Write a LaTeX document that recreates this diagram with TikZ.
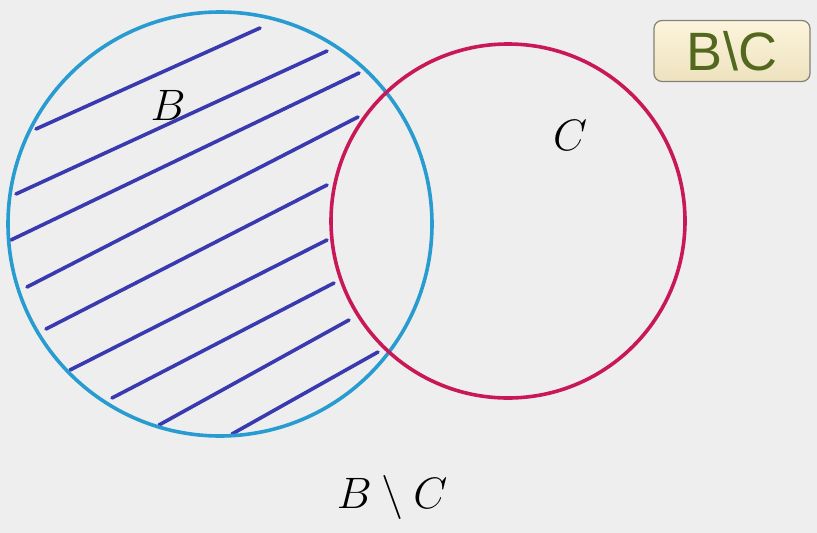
\RequirePackage{fix-cm}
\documentclass[tikz,border=0pt]{standalone}
\usepackage{fontspec}
\newfontfamily\boxfont{Liberation Sans}
\definecolor{bgc}{RGB}{238,238,238}
\definecolor{bluec}{RGB}{40,156,208}
\definecolor{redc}{RGB}{200,24,88}
\definecolor{hatchc}{RGB}{58,58,176}
\definecolor{boxtop}{RGB}{252,244,220}
\definecolor{boxbot}{RGB}{238,226,190}
\definecolor{boxline}{RGB}{130,130,118}
\definecolor{boxtext}{RGB}{82,104,30}
\begin{document}
\begin{tikzpicture}[x=1pt,y=-1pt,
  setcircle/.style={circle,draw,line width=3.6pt,inner sep=0pt},
  hatch/.style={draw=hatchc,line width=3.6pt,line cap=round},
  biglabel/.style={font=\fontsize{44}{50}\selectfont,inner sep=0pt},
  tagbox/.style={draw=boxline,line width=1.2pt,rounded corners=8pt,top color=boxtop,bottom color=boxbot,
    minimum width=156pt,minimum height=61pt,inner sep=0pt,text=boxtext,font=\boxfont\fontsize{54}{60}\selectfont}]
\fill[bgc] (0,0) rectangle (817,533);
\useasboundingbox (0,0) rectangle (817,533);
% hatching
\draw[hatch] (36,129) -- (260,28);
\draw[hatch] (16,194) -- (327,51);
\draw[hatch] (11,240) -- (359,73);
\draw[hatch] (27,287) -- (358,117);
\draw[hatch] (46,329) -- (327,185);
\draw[hatch] (70,370) -- (327,240);
\draw[hatch] (112,398) -- (334,283);
\draw[hatch] (159,425) -- (349,320);
\draw[hatch] (232,434) -- (378,352);
% circles
\node[setcircle,draw=bluec,minimum size=424pt] (setB) at (220,224) {};
\node[setcircle,draw=redc,minimum size=354pt] (setC) at (508,221) {};
% labels
\node[biglabel] (labB) at (168,105) {$B$};
\node[biglabel] (labC) at (570,135) {$C$};
\node[biglabel] (labD) at (392,497) {$B\setminus C$};
\node[tagbox] (tag) at (732,51) {B\textbackslash C};
\end{tikzpicture}
\end{document}
